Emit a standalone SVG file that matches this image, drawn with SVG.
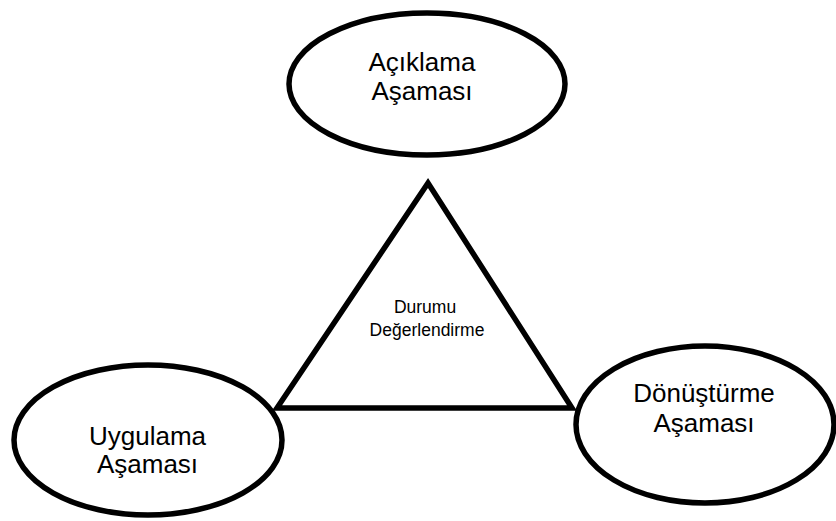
<svg xmlns="http://www.w3.org/2000/svg" width="836" height="521" viewBox="0 0 836 521">
<style>
.shape{fill:#fff;stroke:#000;stroke-width:5.5}
.big{font-family:"Liberation Sans",Arial,sans-serif;font-size:26px;fill:#000;text-anchor:middle}
.small{font-family:"Liberation Sans",Arial,sans-serif;font-size:17.5px;fill:#000;text-anchor:middle}
</style>
<rect width="836" height="521" fill="#fff"/>
<g id="connectors"></g>
<g id="durumu">
<polygon class="shape" points="428,183 277,408 572,408" stroke-linejoin="miter"/>
<text class="small" x="425" y="313">Durumu</text>
<text class="small" x="427" y="335.5">Değerlendirme</text>
</g>
<g id="aciklama">
<ellipse class="shape" cx="427" cy="84" rx="138" ry="71"/>
<text class="big" x="422" y="71">Açıklama</text>
<text class="big" x="422" y="100">Aşaması</text>
</g>
<g id="uygulama">
<ellipse class="shape" cx="148" cy="440" rx="134" ry="75"/>
<text class="big" x="147.5" y="445">Uygulama</text>
<text class="big" x="147.5" y="473">Aşaması</text>
</g>
<g id="donusturme">
<ellipse class="shape" cx="705" cy="424.5" rx="129" ry="78.5"/>
<text class="big" x="704" y="401.5">Dönüştürme</text>
<text class="big" x="704" y="431.5">Aşaması</text>
</g>
</svg>
